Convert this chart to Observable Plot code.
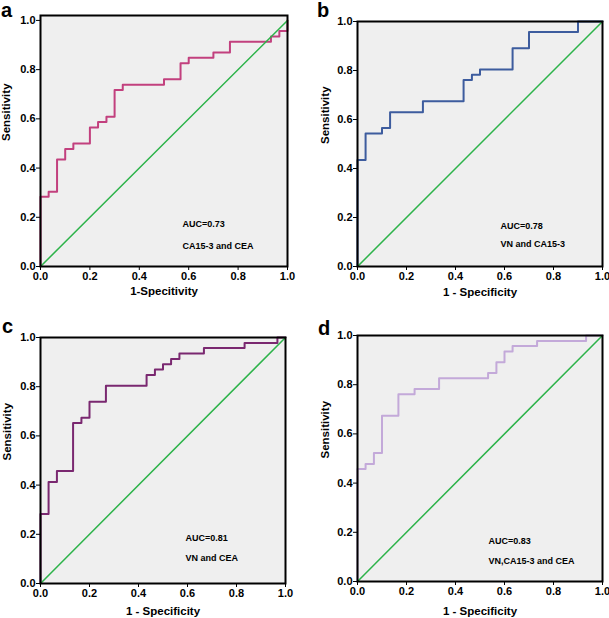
<!DOCTYPE html>
<html>
<head>
<meta charset="utf-8">
<script src="https://cdn.jsdelivr.net/npm/d3@7"></script>
<script src="https://cdn.jsdelivr.net/npm/@observablehq/plot@0.6"></script>
<style>
  html, body { margin: 0; padding: 0; background: #fff; }
  #wrap { position: relative; width: 609px; height: 618px; overflow: hidden; font-family: "Liberation Sans", Arial, sans-serif; }
  .panel { position: absolute; }
  .letter { position: absolute; font-weight: bold; font-size: 20px; line-height: 20px; color: #000; }
</style>
</head>
<body>
<div id="wrap"></div>
<script>
// ---- data ----
const panelLetters = ["a", "b", "c", "d"];
const xTitles = ["1-Specitivity", "1 - Specificity", "1 - Specificity", "1 - Specificity"];
const aucLabels = ["AUC=0.73", "AUC=0.78", "AUC=0.81", "AUC=0.83"];
const comboLabels = ["CA15-3 and CEA", "VN and CA15-3", "VN and CEA", "VN,CA15-3 and CEA"];
const tickValues = [0, 0.2, 0.4, 0.6, 0.8, 1.0];
const diagX = [0, 1];
const diagY = [0, 1];

const fprA = [0, 0, 0.033, 0.067, 0.1, 0.133, 0.2, 0.233, 0.267, 0.3, 0.333, 0.5, 0.567, 0.6, 0.7, 0.767, 0.933, 0.967, 1.0];
const tprA = [0, 0.283, 0.304, 0.435, 0.478, 0.5, 0.565, 0.587, 0.609, 0.717, 0.739, 0.761, 0.826, 0.848, 0.870, 0.913, 0.935, 0.957, 1.0];

const fprB = [0, 0, 0.033, 0.1, 0.133, 0.267, 0.433, 0.467, 0.5, 0.633, 0.7, 0.9, 1.0];
const tprB = [0, 0.435, 0.543, 0.565, 0.630, 0.674, 0.761, 0.783, 0.804, 0.891, 0.957, 1.0, 1.0];

const fprC = [0, 0, 0.033, 0.067, 0.133, 0.167, 0.2, 0.267, 0.433, 0.467, 0.5, 0.533, 0.567, 0.667, 0.833, 0.967, 1.0];
const tprC = [0, 0.283, 0.413, 0.457, 0.652, 0.674, 0.739, 0.804, 0.848, 0.870, 0.891, 0.913, 0.935, 0.957, 0.978, 1.0, 1.0];

const fprD = [0, 0, 0.033, 0.067, 0.1, 0.167, 0.233, 0.333, 0.533, 0.567, 0.6, 0.633, 0.733, 0.933, 1.0];
const tprD = [0, 0.457, 0.478, 0.522, 0.674, 0.761, 0.783, 0.826, 0.848, 0.891, 0.935, 0.957, 0.978, 1.0, 1.0];

const curves = [[fprA, tprA], [fprB, tprB], [fprC, tprC], [fprD, tprD]];

// ---- layout / styles ----
const colors = ["#c2407e", "#3d5c9e", "#7a2870", "#c3a9d9"];
const layouts = [
  {left: 0,   top: 0,   width: 305, height: 310, mt: 15, mb: 44, ml: 40, mr: 18, yTop: 1.02, titleDy: 25,   yDx: -34, annX: 0.575, ann1: 0.171, ann2: 0.081, letter: [1, 0]},
  {left: 305, top: 0,   width: 304, height: 310, mt: 21, mb: 44, ml: 52, mr: 7,  yTop: 1.0,  titleDy: 26,   yDx: -32, annX: 0.584, ann1: 0.166, ann2: 0.093, letter: [317, 0]},
  {left: 0,   top: 308, width: 305, height: 310, mt: 29, mb: 35, ml: 40, mr: 20, yTop: 1.0,  titleDy: 27.5, yDx: -33, annX: 0.592, ann1: 0.186, ann2: 0.105, letter: [2, 316]},
  {left: 305, top: 308, width: 304, height: 310, mt: 27, mb: 37, ml: 52, mr: 7,  yTop: 1.0,  titleDy: 30,   yDx: -32, annX: 0.535, ann1: 0.163, ann2: 0.081, letter: [318, 318]}
];

const wrap = document.getElementById("wrap");

layouts.forEach((L, i) => {
  const [fpr, tpr] = curves[i];
  const rows = fpr.map((x, j) => ({x, y: tpr[j]}));
  const chart = Plot.plot({
    width: L.width,
    height: L.height,
    marginTop: L.mt,
    marginBottom: L.mb,
    marginLeft: L.ml,
    marginRight: L.mr,
    x: {domain: [0, 1]},
    y: {domain: [0, L.yTop]},
    style: {fontFamily: "'Liberation Sans', Arial, sans-serif", fontWeight: "bold", background: "transparent", overflow: "visible", color: "#000"},
    marks: [
      Plot.frame({fill: "#efefef"}),
      Plot.line(rows, {x: "x", y: "y", curve: "step-after", stroke: colors[i], strokeWidth: 2}),
      Plot.line({length: diagX.length}, {x: diagX, y: diagY, stroke: "#2db34a", strokeWidth: 1.5}),
      Plot.frame({stroke: "#000", strokeWidth: 2}),
      Plot.axisX(tickValues, {tickSize: 4, tickPadding: 2, tickFormat: d3.format(".1f"), fontSize: 11, label: null}),
      Plot.axisY(tickValues, {tickSize: 4, tickPadding: 1, tickFormat: d3.format(".1f"), fontSize: 11, label: null}),
      Plot.text([xTitles[i]], {frameAnchor: "bottom", lineAnchor: "middle", dy: L.titleDy, fontSize: 11.5, fontWeight: "bold"}),
      Plot.text(["Sensitivity"], {frameAnchor: "left", lineAnchor: "middle", rotate: -90, dx: L.yDx, fontSize: 11.5, fontWeight: "bold"}),
      Plot.text([{t: aucLabels[i], x: L.annX, y: L.ann1}, {t: comboLabels[i], x: L.annX, y: L.ann2}],
        {x: "x", y: "y", text: "t", textAnchor: "start", fontSize: 9, fontWeight: "bold"})
    ]
  });
  const div = document.createElement("div");
  div.className = "panel";
  div.style.left = L.left + "px";
  div.style.top = L.top + "px";
  div.appendChild(chart);
  wrap.appendChild(div);

  const letter = document.createElement("div");
  letter.className = "letter";
  letter.textContent = panelLetters[i];
  letter.style.left = L.letter[0] + "px";
  letter.style.top = L.letter[1] + "px";
  wrap.appendChild(letter);
});
</script>
</body>
</html>
